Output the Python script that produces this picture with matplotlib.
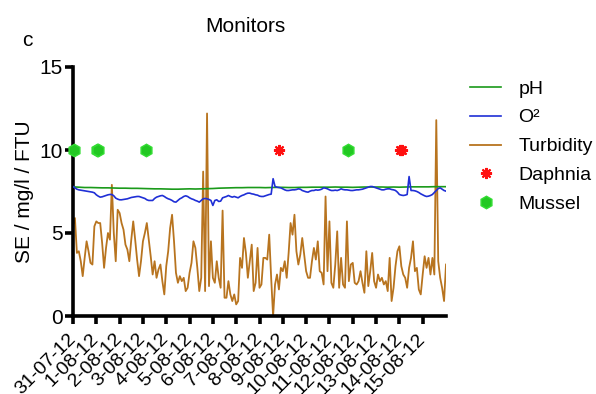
import numpy as np
import pandas as pd
import matplotlib
matplotlib.use("Agg")
import matplotlib.pyplot as plt

plt.rcParams['font.family'] = ['Liberation Sans', 'DejaVu Sans']

# readings every 2 hours from 31-07-12 00:00 (12 per day)
turbidity = [
    5.5, 5.9, 3.8, 3.9, 3.3, 2.4, 3.5, 4.5, 3.9, 3.2, 3.1, 5.4,
    5.7, 5.6, 5.6, 4.4, 2.9, 4.1, 5.0, 4.6, 7.9, 5.0, 3.3, 6.4,
    6.2, 5.6, 5.2, 4.3, 4.0, 3.3, 4.6, 5.7, 4.6, 3.4, 2.4, 3.3,
    4.5, 5.0, 5.6, 4.6, 3.6, 2.5, 3.3, 2.3, 2.8, 3.1, 2.1, 1.3,
    3.0, 3.9, 5.3, 6.1, 4.5, 2.6, 2.0, 2.4, 2.1, 2.3, 1.5, 1.7,
    2.6, 3.2, 4.5, 4.1, 2.9, 1.5, 2.3, 8.7, 1.5, 12.2, 1.8, 4.5,
    2.3, 2.0, 3.3, 2.3, 1.7, 6.35, 1.1, 1.1, 2.1, 1.3, 0.9, 1.3,
    0.7, 0.9, 3.5, 2.9, 4.7, 3.8, 2.3, 3.3, 4.3, 1.5, 2.0, 4.1,
    1.7, 1.9, 3.5, 3.5, 3.4, 4.9, 2.3, 0.0, 1.9, 2.5, 1.6, 2.9,
    2.7, 3.3, 2.3, 3.8, 5.6, 4.9, 6.1, 3.9, 3.1, 3.7, 4.7, 3.7,
    2.7, 2.3, 2.3, 3.3, 4.1, 3.4, 4.5, 2.7, 2.6, 1.9, 7.2, 2.7,
    5.7, 2.0, 1.7, 3.1, 5.1, 1.7, 3.5, 1.9, 1.7, 5.7, 2.1, 3.1,
    3.2, 2.0, 1.9, 2.1, 2.7, 2.0, 1.4, 3.9, 1.8, 2.7, 3.8, 2.1,
    1.7, 2.5, 2.1, 2.3, 1.9, 2.1, 1.5, 3.5, 0.9, 1.7, 3.0, 3.9,
    4.2, 3.0, 2.5, 2.3, 1.7, 2.9, 3.5, 4.5, 2.7, 2.9, 1.6, 1.3,
    2.5, 3.6, 2.9, 3.5, 2.5, 3.5, 2.5, 11.8, 3.3, 2.3, 1.7, 0.9,
    3.1,
]

oxygen = [
    7.80, 7.72, 7.64, 7.60, 7.58, 7.56, 7.54, 7.52, 7.50, 7.48, 7.46, 7.42,
    7.30, 7.22, 7.16, 7.18, 7.22, 7.26, 7.30, 7.32, 7.32, 7.24, 7.10, 7.04,
    7.00, 7.00, 7.02, 7.04, 7.06, 7.10, 7.14, 7.16, 7.18, 7.20, 7.20, 7.16,
    7.12, 7.08, 7.00, 6.96, 6.96, 6.96, 7.08, 7.16, 7.20, 7.24, 7.26, 7.20,
    7.12, 7.06, 7.02, 6.96, 6.88, 6.86, 6.96, 7.06, 7.12, 7.20, 7.24, 7.20,
    7.12, 7.06, 7.02, 6.96, 6.92, 6.86, 6.96, 7.06, 7.08, 7.06, 7.02, 6.96,
    6.66, 6.96, 7.00, 6.90, 6.92, 7.12, 7.16, 7.20, 7.26, 7.20, 7.16, 7.20,
    7.16, 7.12, 7.20, 7.26, 7.30, 7.36, 7.40, 7.40, 7.36, 7.34, 7.30, 7.28,
    7.22, 7.20, 7.20, 7.24, 7.28, 7.32, 7.34, 8.27, 7.80, 7.76, 7.74, 7.72,
    7.66, 7.60, 7.56, 7.56, 7.58, 7.60, 7.60, 7.62, 7.66, 7.64, 7.56, 7.52,
    7.48, 7.46, 7.52, 7.56, 7.56, 7.60, 7.58, 7.60, 7.64, 7.72, 7.70, 7.66,
    7.60, 7.56, 7.56, 7.58, 7.56, 7.60, 7.66, 7.62, 7.60, 7.60, 7.58, 7.56,
    7.56, 7.58, 7.60, 7.60, 7.62, 7.64, 7.68, 7.72, 7.76, 7.80, 7.80, 7.76,
    7.72, 7.68, 7.64, 7.60, 7.60, 7.64, 7.66, 7.66, 7.62, 7.60, 7.56, 7.46,
    7.32, 7.28, 7.26, 7.28, 7.32, 8.40, 7.56, 7.56, 7.54, 7.50, 7.44, 7.36,
    7.30, 7.24, 7.20, 7.22, 7.26, 7.32, 7.44, 7.56, 7.68, 7.72, 7.64, 7.56,
    7.52,
]

# pH every 6 hours
ph = [
    7.78, 7.76, 7.74, 7.74,
    7.73, 7.72, 7.72, 7.71,
    7.70, 7.70, 7.69, 7.69,
    7.68, 7.67, 7.66, 7.66,
    7.65, 7.64, 7.64, 7.65,
    7.66, 7.65, 7.66, 7.67,
    7.68, 7.70, 7.71, 7.72,
    7.73, 7.73, 7.74, 7.74,
    7.74, 7.73, 7.74, 7.75,
    7.75, 7.74, 7.74, 7.75,
    7.75, 7.76, 7.76, 7.76,
    7.76, 7.77, 7.76, 7.76,
    7.75, 7.76, 7.77, 7.77,
    7.77, 7.77, 7.76, 7.77,
    7.76, 7.77, 7.78, 7.78,
    7.78, 7.78, 7.79, 7.79,
    7.79,
]

daphnia_times = ['2012-08-08 20:30', '2012-08-14 00:45', '2012-08-14 02:30']
daphnia_y = [10, 10, 10]
mussel_times = ['2012-07-31 00:45', '2012-08-01 00:30', '2012-08-01 02:00',
                '2012-08-03 03:20', '2012-08-11 19:10']
mussel_y = [10, 10, 10, 10, 10]

tick_labels = ['31-07-12', '1-08-12', '2-08-12', '3-08-12', '4-08-12', '5-08-12',
               '6-08-12', '7-08-12', '8-08-12', '9-08-12', '10-08-12', '11-08-12',
               '12-08-12', '13-08-12', '14-08-12', '15-08-12']

t2 = pd.date_range('2012-07-31', periods=len(turbidity), freq='2h')
t6 = pd.date_range('2012-07-31', periods=len(ph), freq='6h')
days = pd.date_range('2012-07-31', periods=len(tick_labels), freq='D')

fig = plt.figure(figsize=(5.96, 3.94), dpi=100)
ax = fig.add_axes([73 / 596, 78 / 394, 373 / 596, 249 / 394])

ax.plot(t6, ph, color='#1a9a1a', lw=1.2, label='pH', zorder=3)
ax.plot(t2, oxygen, color='#1f2fd6', lw=1.2, label='O²', zorder=3)
ax.plot(t2, turbidity, color='#b8741f', lw=1.3, label='Turbidity', zorder=2)
ax.plot(pd.to_datetime(daphnia_times), daphnia_y, ls='none', marker=(8, 2, 0),
        ms=8, mew=1.5, color='#ff1010', label='Daphnia', zorder=4, clip_on=False)
ax.plot(pd.to_datetime(mussel_times), mussel_y, ls='none', marker='h',
        ms=9, color='#22c822', mec='#33dd33', label='Mussel', zorder=4, clip_on=False)

ax.set_xlim(pd.Timestamp('2012-07-31'), pd.Timestamp('2012-08-16'))
ax.set_ylim(0, 15)
ax.set_yticks([0, 5, 10, 15])
ax.set_xticks(days)
ax.set_xticklabels(tick_labels, rotation=45, ha='right', va='center',
                   rotation_mode='anchor')

for side in ['top', 'right']:
    ax.spines[side].set_visible(False)
for side in ['left', 'bottom']:
    ax.spines[side].set_linewidth(2.6)
ax.tick_params(axis='both', width=2.6, length=5.5, labelsize=14)
ax.tick_params(axis='x', pad=9)
ax.tick_params(axis='y', pad=2, labelsize=15)

ax.set_ylabel('SE / mg/l / FTU', fontsize=15, labelpad=4)

fig.text(245 / 596, 1 - 26 / 394, 'Monitors', fontsize=15, ha='center', va='center')
fig.text(27 / 596, 1 - 40 / 394, 'c', fontsize=15, ha='center', va='center')

ax.legend(loc='upper left', bbox_to_anchor=(470 / 596, 1 - 80 / 394),
          bbox_transform=fig.transFigure, frameon=False, fontsize=14,
          borderpad=0, borderaxespad=0, handlelength=1.6, handletextpad=0.9,
          labelspacing=0.58)

fig.savefig('out.png', dpi=100)
